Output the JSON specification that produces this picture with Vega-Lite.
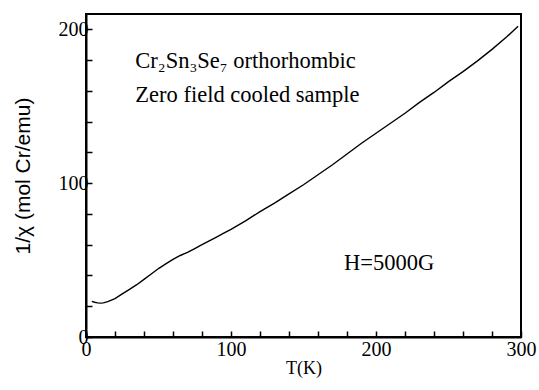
{
  "$schema": "https://vega.github.io/schema/vega-lite/v6.json",
  "width": 435,
  "height": 323,
  "autosize": {"type": "none"},
  "padding": {"left": 86, "top": 14, "right": 18, "bottom": 53},
  "background": "white",
  "config": {
    "view": {"stroke": "black", "strokeWidth": 2},
    "font": "Liberation Serif",
    "axis": {
      "domainColor": "black",
      "domainWidth": 2,
      "labelFont": "Liberation Serif",
      "titleFont": "Liberation Serif",
      "labelColor": "black",
      "titleColor": "black",
      "labelFontSize": 20,
      "titleFontSize": 18,
      "titleFontWeight": "normal",
      "grid": false
    },
    "axisX": {
      "orient": "bottom",
      "title": "T(K)",
      "titlePadding": 0,
      "values": [0,10,20,30,40,50,60,70,80,90,100,110,120,130,140,150,160,170,180,190,200,210,220,230,240,250,260,270,280,290,300],
      "labelExpr": "datum.value % 50 === 0 ? datum.label : ''",
      "ticks": true,
      "tickColor": "black",
      "tickWidth": 1.5,
      "tickSize": -6,
      "labelPadding": 8,
      "labelFlush": false,
      "labelOverlap": false
    },
    "axisY": {
      "orient": "left",
      "titleFont": "Liberation Sans",
      "titleFontSize": 21,
      "titlePadding": 25,
      "values": [0,10,20,30,40,50,60,70,80,90,100,110,120,130,140,150,160,170,180,190,200],
      "labelExpr": "datum.value % 50 === 0 ? datum.label : ''",
      "ticks": true,
      "tickColor": "black",
      "tickWidth": 1.5,
      "tickSize": -6,
      "labelPadding": 4,
      "labelOverlap": false
    }
  },
  "datasets": {
    "curve": [
      {"T": 4, "inv": 23.2}, {"T": 6, "inv": 22.6}, {"T": 8, "inv": 22.2}, {"T": 10, "inv": 22.0},
      {"T": 12, "inv": 22.2}, {"T": 15, "inv": 23.0}, {"T": 20, "inv": 25.0}, {"T": 25, "inv": 28.0},
      {"T": 30, "inv": 31.0}, {"T": 35, "inv": 34.0}, {"T": 40, "inv": 37.5}, {"T": 45, "inv": 41.0},
      {"T": 50, "inv": 44.5}, {"T": 55, "inv": 47.5}, {"T": 60, "inv": 50.5}, {"T": 65, "inv": 53.0},
      {"T": 70, "inv": 55.0}, {"T": 75, "inv": 57.5}, {"T": 80, "inv": 60.0}, {"T": 85, "inv": 62.5},
      {"T": 90, "inv": 65.0}, {"T": 95, "inv": 67.5}, {"T": 100, "inv": 70.0}, {"T": 110, "inv": 75.5},
      {"T": 120, "inv": 81.5}, {"T": 130, "inv": 87.0}, {"T": 140, "inv": 93.0}, {"T": 150, "inv": 99.0},
      {"T": 160, "inv": 105.5}, {"T": 170, "inv": 112.0}, {"T": 180, "inv": 119.0}, {"T": 190, "inv": 126.0},
      {"T": 200, "inv": 132.5}, {"T": 210, "inv": 139.0}, {"T": 220, "inv": 145.5}, {"T": 230, "inv": 152.5},
      {"T": 240, "inv": 159.0}, {"T": 250, "inv": 166.0}, {"T": 260, "inv": 172.5}, {"T": 270, "inv": 179.5},
      {"T": 280, "inv": 187.0}, {"T": 290, "inv": 195.0}, {"T": 298, "inv": 202.0}
    ],
    "notes": [
      {"T": 34, "inv": 175, "label": "Cr₂Sn₃Se₇ orthorhombic"},
      {"T": 34, "inv": 152.5, "label": "Zero field cooled sample"},
      {"T": 178, "inv": 43.4, "label": "H=5000G"}
    ]
  },
  "layer": [
    {
      "data": {"name": "curve"},
      "mark": {"type": "line", "color": "black", "strokeWidth": 1.4},
      "encoding": {
        "x": {"field": "T", "type": "quantitative", "title": "T(K)", "scale": {"domain": [0, 300], "nice": false}},
        "y": {"field": "inv", "type": "quantitative", "title": "1/χ (mol Cr/emu)", "scale": {"domain": [0, 210], "nice": false}}
      }
    },
    {
      "data": {"name": "notes"},
      "mark": {"type": "text", "align": "left", "baseline": "alphabetic", "fontSize": 22.5, "font": "Liberation Serif", "color": "black"},
      "encoding": {
        "x": {"field": "T", "type": "quantitative", "title": "T(K)", "scale": {"domain": [0, 300], "nice": false}},
        "y": {"field": "inv", "type": "quantitative", "title": "1/χ (mol Cr/emu)", "scale": {"domain": [0, 210], "nice": false}},
        "text": {"field": "label"}
      }
    }
  ]
}
